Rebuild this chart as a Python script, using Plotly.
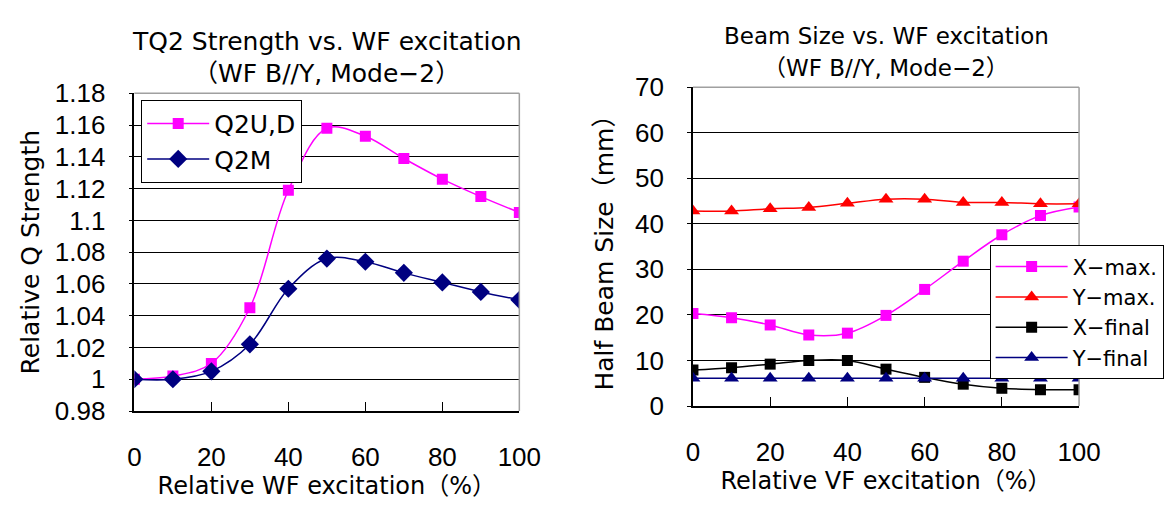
import plotly.graph_objects as go

# ---------------- data ----------------
excitation = [0, 10, 20, 30, 40, 50, 60, 70, 80, 90, 100]

q2ud = [1.000, 1.002, 1.010, 1.045, 1.119, 1.158, 1.153, 1.139, 1.126, 1.115, 1.105]
q2m = [1.000, 1.000, 1.005, 1.022, 1.057, 1.076, 1.074, 1.067, 1.061, 1.055, 1.050]

x_max = [20.3, 19.4, 17.8, 15.6, 16.0, 19.9, 25.6, 31.8, 37.6, 41.8, 43.7]
y_max = [42.8, 42.8, 43.3, 43.6, 44.5, 45.4, 45.4, 44.7, 44.7, 44.4, 44.4]
x_final = [7.9, 8.4, 9.2, 10.0, 10.0, 8.1, 6.3, 4.8, 3.9, 3.6, 3.6]
y_final = [6.1, 6.1, 6.1, 6.1, 6.1, 6.1, 6.1, 6.1, 6.1, 6.1, 6.1]

x_ticks = [0, 20, 40, 60, 80, 100]
x_ticklabels = ["0", "20", "40", "60", "80", "100"]
q_ticks = [0.98, 1.00, 1.02, 1.04, 1.06, 1.08, 1.10, 1.12, 1.14, 1.16, 1.18]
q_ticklabels = ["0.98", "1", "1.02", "1.04", "1.06", "1.08", "1.1", "1.12", "1.14", "1.16", "1.18"]
b_ticks = [0, 10, 20, 30, 40, 50, 60, 70]
b_ticklabels = ["0", "10", "20", "30", "40", "50", "60", "70"]

title_left = ["TQ2 Strength vs. WF excitation", "（WF B//Y, Mode−2）"]
title_right = ["Beam Size vs. WF excitation", "（WF B//Y, Mode−2）"]

TXT = "DejaVu Sans, Noto Sans CJK JP, sans-serif"
NUM = "Liberation Sans, Arial, sans-serif"
MAGENTA = "#FF00FF"
NAVY = "#000080"
RED = "#FF0000"
BLACK = "#000000"

fig = go.Figure()

def add(x, y, name, color, symbol, size, xa, ya, legend, group, shape="spline"):
    fig.add_trace(go.Scatter(
        x=x, y=y, name=name, mode="lines+markers",
        line=dict(color=color, width=1.5, shape=shape, smoothing=1),
        marker=dict(color=color, symbol=symbol, size=size),
        xaxis=xa, yaxis=ya, legend=legend, legendgroup=group,
    ))

add(excitation, q2ud, "Q2U,D", MAGENTA, "square", 11, "x", "y", "legend", "a")
add(excitation, q2m, "Q2M", NAVY, "diamond", 14, "x", "y", "legend", "a")

add(excitation, x_max, "X−max.", MAGENTA, "square", 11, "x2", "y2", "legend2", "c")
add(excitation, y_max, "Y−max.", RED, "triangle-up", 13, "x2", "y2", "legend2", "c")
add(excitation, x_final, "X−final", BLACK, "square", 11, "x2", "y2", "legend2", "c")
add(excitation, y_final, "Y−final", NAVY, "triangle-up", 13, "x2", "y2", "legend2", "c", shape="linear")

W, H = 1175, 506
def px_x(p):
    return p / W
def px_y(p):
    return 1 - p / H

xaxis_common = dict(
    range=[0, 100], tickvals=x_ticks, ticktext=x_ticklabels,
    ticks="inside", ticklen=9, tickcolor=BLACK, tickwidth=1,
    showline=True, linecolor=BLACK, linewidth=1.5,
    showgrid=False, zeroline=False,
    tickfont=dict(family=NUM, size=26, color=BLACK), ticklabelstandoff=22,
)
yaxis_common = dict(
    ticks="outside", ticklen=4, tickcolor=BLACK, tickwidth=1,
    showline=True, linecolor=BLACK, linewidth=1.5,
    showgrid=True, gridcolor=BLACK, gridwidth=1, zeroline=False,
    tickfont=dict(family=NUM, size=26, color=BLACK), ticklabelstandoff=18,
)

L = (130.6, 525.3)
R = (703.3, 1099.2)

annotations = []
for (line1, line2), (a, b), y1, y2, fs in [
    (title_left, L, 28, 62, 25),
    (title_right, R, 22, 56, 23),
]:
    cx = (px_x(a) + px_x(b)) / 2
    for txt, yy in [(line1, y1), (line2, y2)]:
        annotations.append(dict(
            text=txt, x=cx, y=px_y(yy), xref="paper", yref="paper",
            showarrow=False, font=dict(family=TXT, size=fs, color=BLACK),
            xanchor="center", yanchor="middle"))

fig.update_layout(
    width=W, height=H,
    margin=dict(l=0, r=0, t=0, b=0),
    paper_bgcolor="white", plot_bgcolor="white",
    font=dict(family=TXT, size=22, color=BLACK),
    xaxis=dict(domain=[px_x(L[0]), px_x(L[1])], anchor="y",
               title=dict(text="Relative WF excitation（%）", font=dict(family=TXT, size=24), standoff=5),
               **xaxis_common),
    yaxis=dict(domain=[px_y(421), px_y(83.3)], anchor="x",
               range=[0.98, 1.18], tickvals=q_ticks, ticktext=q_ticklabels,
               title=dict(text="Relative Q Strength", font=dict(family=TXT, size=25), standoff=8),
               **yaxis_common),
    xaxis2=dict(domain=[px_x(R[0]), px_x(R[1])], anchor="y2",
                title=dict(text="Relative VF excitation（%）", font=dict(family=TXT, size=24), standoff=5),
                **xaxis_common),
    yaxis2=dict(domain=[px_y(415.7), px_y(76.7)], anchor="x2",
                range=[0, 70], tickvals=b_ticks, ticktext=b_ticklabels,
                title=dict(text="Half Beam Size（mm）", font=dict(family=TXT, size=25), standoff=14),
                **yaxis_common),
    legend=dict(x=px_x(137.6), y=px_y(90), xanchor="left", yanchor="top",
                bgcolor="white", bordercolor=BLACK, borderwidth=1,
                font=dict(family=TXT, size=25), tracegroupgap=0, itemwidth=62),
    legend2=dict(x=px_x(1007.5), y=px_y(245), xanchor="left", yanchor="top",
                 bgcolor="white", bordercolor=BLACK, borderwidth=1,
                 font=dict(family=TXT, size=21), tracegroupgap=0, itemwidth=72),
    showlegend=True,
    annotations=annotations,
    shapes=[
        dict(type="line", xref="x domain", yref="y domain", x0=0, x1=1, y0=1, y1=1,
             line=dict(color="#A0A0A0", width=1.5)),
        dict(type="line", xref="x domain", yref="y domain", x0=1, x1=1, y0=0, y1=1,
             line=dict(color="#A0A0A0", width=1.5)),
        dict(type="line", xref="x2 domain", yref="y2 domain", x0=0, x1=1, y0=1, y1=1,
             line=dict(color="#A0A0A0", width=1.5)),
        dict(type="line", xref="x2 domain", yref="y2 domain", x0=1, x1=1, y0=0, y1=1,
             line=dict(color="#A0A0A0", width=1.5)),
    ],
)

fig.write_html("out.html")
